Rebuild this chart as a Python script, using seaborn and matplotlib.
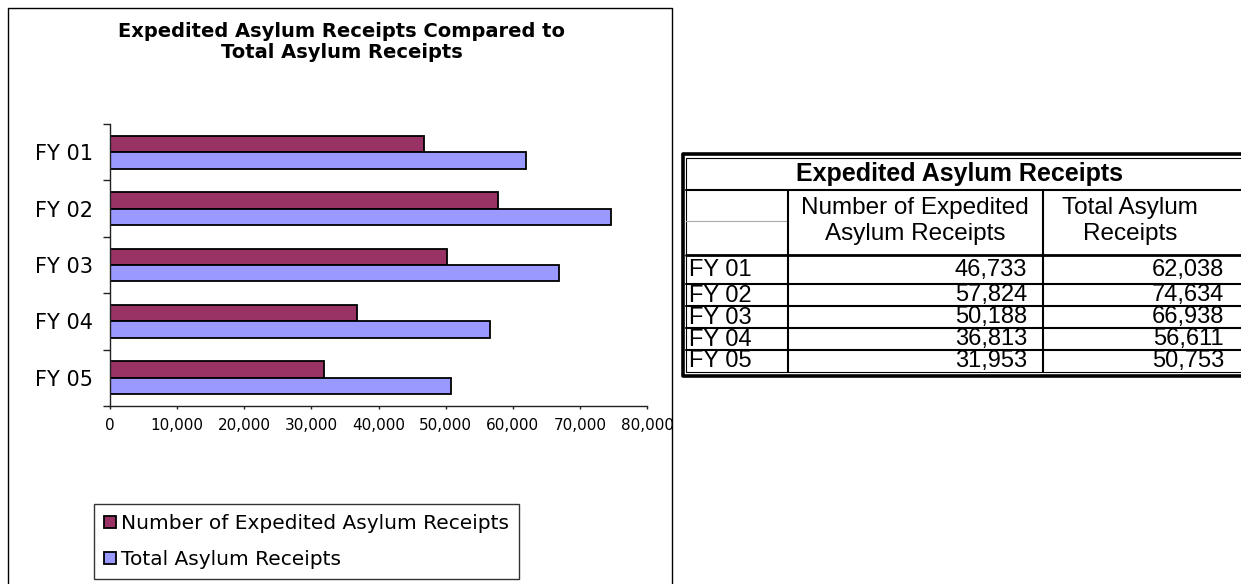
import numpy as np
import pandas as pd
import matplotlib
matplotlib.use('Agg')
import matplotlib.pyplot as plt
from matplotlib.ticker import FuncFormatter, FixedLocator
import seaborn as sns

# %% data
years = ['FY 01', 'FY 02', 'FY 03', 'FY 04', 'FY 05']
expedited = [46733, 57824, 50188, 36813, 31953]
total = [62038, 74634, 66938, 56611, 50753]
series = ['Number of Expedited Asylum Receipts', 'Total Asylum Receipts']
colors = ['#993366', '#9999FF']
chart_title = 'Expedited Asylum Receipts Compared to\nTotal Asylum Receipts'
table_title = 'Expedited Asylum Receipts'
table_headers = ['Number of Expedited\nAsylum Receipts', 'Total Asylum\nReceipts']

df = pd.DataFrame({'Year': years * 2,
                   'Series': [series[0]] * len(years) + [series[1]] * len(years),
                   'Receipts': expedited + total})

# %% figure
sns.set_style('white')
plt.rcParams['font.family'] = ['DejaVu Sans']
plt.rcParams['text.color'] = 'black'
plt.rcParams['xtick.color'] = 'black'
plt.rcParams['ytick.color'] = 'black'
W, H = 1241, 584
fig = plt.figure(figsize=(W / 100, H / 100), dpi=100)

def px(x0, y0, x1, y1):
    return [x0 / W, 1 - y1 / H, (x1 - x0) / W, (y1 - y0) / H]

ax = fig.add_axes(px(110, 124, 647, 406))
sns.barplot(data=df, y='Year', x='Receipts', hue='Series', hue_order=series,
            palette=colors, saturation=1, width=0.585, edgecolor='black',
            linewidth=1.3, orient='h', ax=ax)

ax.set_xlim(0, 80000)
ax.set_ylim(len(years) - 0.5, -0.5)
ax.set_xticks(np.arange(0, 80001, 10000))
ax.xaxis.set_major_formatter(FuncFormatter(lambda v, p: f'{int(v):,}'))
ax.set_xlabel('')
ax.set_ylabel('')
for s in ['top', 'right']:
    ax.spines[s].set_visible(False)
for s in ['left', 'bottom']:
    ax.spines[s].set_color('#222222')
    ax.spines[s].set_linewidth(1)
ax.yaxis.set_minor_locator(FixedLocator(np.arange(-0.5, len(years), 1.0)))
ax.tick_params(axis='y', which='major', length=0, pad=12, labelsize=15)
ax.tick_params(axis='y', which='minor', left=True, length=5, width=1, color='#222222')
ax.tick_params(axis='x', which='major', bottom=True, length=2.5, width=1,
               color='#222222', pad=6, labelsize=11)

handles, labels = ax.get_legend_handles_labels()
ax.legend_.remove()
leg = fig.legend(handles, labels, loc='upper left',
                 bbox_to_anchor=(94 / W, 1 - 504 / H), borderaxespad=0,
                 fontsize=14.5, frameon=True, fancybox=False, edgecolor='black',
                 handlelength=0.6, handleheight=0.6, handletextpad=0.25,
                 labelspacing=0.85, borderpad=0.5)
leg.get_frame().set_linewidth(1)

# chart title
fig.text(342 / W, 1 - 42 / H, chart_title, ha='center', va='center',
         fontsize=14, fontweight='bold', linespacing=1.1)

# overlay in pixel coordinates for frame and table
ov = fig.add_axes([0, 0, 1, 1], facecolor='none')
ov.set_xlim(0, W)
ov.set_ylim(H, 0)
ov.axis('off')

# chart frame
ov.plot([7.5, 7.5, 672, 672], [H + 5, 8, 8, H + 5], color='black', lw=1)

# table
L, R = 681, 1260
ov.plot([R, L + 1.5, L + 1.5, R], [153.5, 153.5, 375.5, 375.5], color='black', lw=2.6)
ov.plot([R, 686, 686, R], [158, 158, 371.5, 371.5], color='black', lw=0.8)
c1, c2 = 788, 1043
ov.plot([686, R], [190, 190], color='black', lw=1.5)
ov.plot([686, c1], [221, 221], color='#aaaaaa', lw=0.8)
row_edges = [255, 284, 306, 328, 350, 371.5]
for i, y in enumerate(row_edges[:-1]):
    ov.plot([686, R], [y, y], color='black', lw=2 if i == 0 else 1.5)
for x in (c1, c2):
    ov.plot([x, x], [190, 371.5], color='black', lw=1.5)

tfont = ['Liberation Sans', 'DejaVu Sans']
ov.text(960, 174, table_title, ha='center', va='center', fontsize=18,
        fontweight='bold', family=tfont)
for xc, hdr in zip([915, 1130], table_headers):
    ov.text(xc, 221, hdr, ha='center', va='center', fontsize=17.5,
            family=tfont, linespacing=1.25)
fs = 17
for i, yr in enumerate(years):
    yc = (row_edges[i] + row_edges[i + 1]) / 2 + 0.5
    ov.text(689, yc, yr, ha='left', va='center', fontsize=fs, family=tfont)
    ov.text(1027, yc, f'{expedited[i]:,}', ha='right', va='center', fontsize=fs, family=tfont)
    ov.text(1224, yc, f'{total[i]:,}', ha='right', va='center', fontsize=fs, family=tfont)

fig.savefig('out.png', dpi=100)
